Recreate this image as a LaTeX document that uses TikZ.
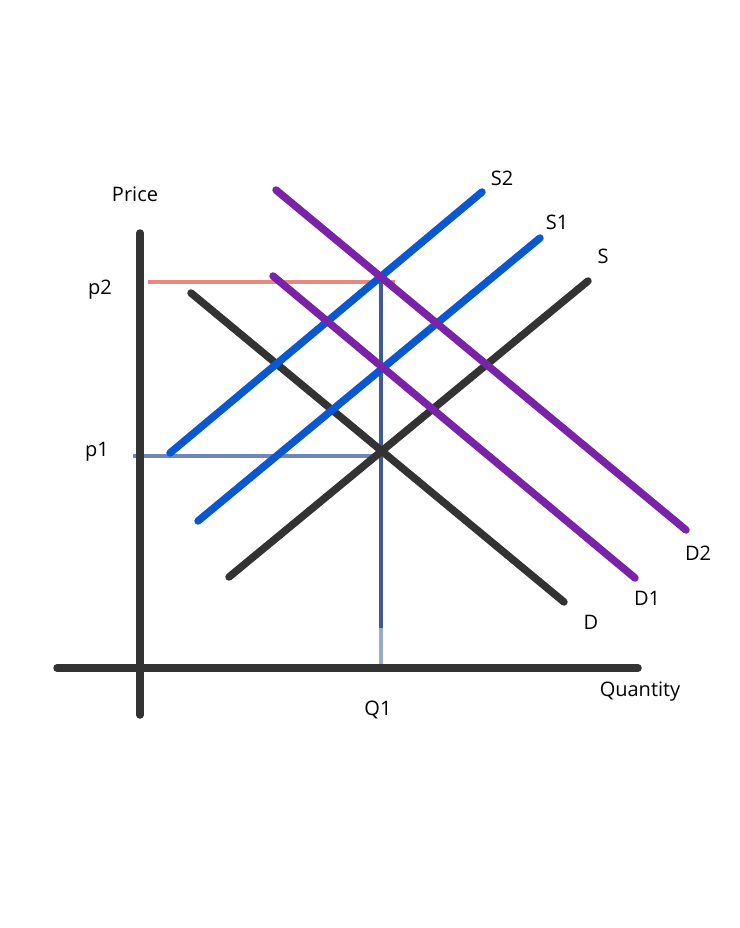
\documentclass[tikz,border=0pt]{standalone}
\usepackage{fontspec}
\setmainfont{Open Sans}
\definecolor{axisgray}{HTML}{333333}
\definecolor{supblue}{HTML}{0A57D2}
\definecolor{dempurple}{HTML}{7A22A8}
\definecolor{pricered}{HTML}{E8887E}
\definecolor{guideblue}{HTML}{6F86B8}
\definecolor{guidedark}{HTML}{3E5A98}
\begin{document}
\begin{tikzpicture}[x=1pt,y=-1pt,
  curve/.style={line width=7.5pt,line cap=round},
  axisline/.style={curve,color=axisgray},
  lbl/.style={font=\fontsize{20}{22}\selectfont,inner sep=0pt}]
\useasboundingbox (0,0) rectangle (739,928);
% guides
\draw[pricered,line width=4pt] (148,282) -- (395,282);
\draw[guideblue,line width=4pt] (133,456) -- (381,456);
\draw[guideblue!70,line width=4pt] (381,282) -- (381,668);
\draw[guidedark,line width=4pt] (381,282) -- (381,628);
% axes
\draw[axisline] (140,233) -- (140,715);
\draw[axisline] (57,668) -- (638,668);
% curves
\draw[axisline] (191,293) -- (564,602);
\draw[axisline] (229,577) -- (588,281);
\draw[curve,supblue] (198,521) -- (540,238);
\draw[curve,supblue] (170,453) -- (482,192);
\draw[curve,dempurple] (273,276) -- (635,578);
\draw[curve,dempurple] (276,190) -- (686,530);
% labels
\node[lbl] (price) at (135,194) {Price};
\node[lbl] (p2) at (100,290) {p2};
\node[lbl] (p1) at (97,452) {p1};
\node[lbl] (s2) at (502,178) {S2};
\node[lbl] (s1) at (557,222) {S1};
\node[lbl] (s) at (603,256) {S};
\node[lbl] (d2) at (698,553) {D2};
\node[lbl] (d1) at (647,598) {D1};
\node[lbl] (d) at (591,622) {D};
\node[lbl] (qty) at (640,692) {Quantity};
\node[lbl] (q1) at (378,710) {Q1};
\end{tikzpicture}
\end{document}
